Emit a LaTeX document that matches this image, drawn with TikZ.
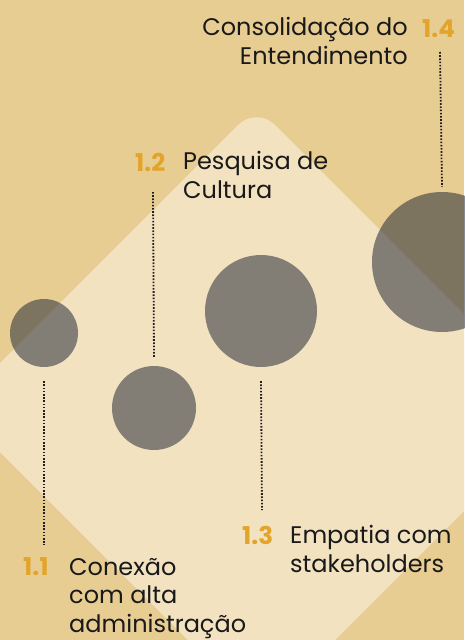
\documentclass[tikz,border=0pt]{standalone}
\usepackage{fontspec}
\setmainfont{Poppins}
\definecolor{tanbg}{HTML}{E8CD93}
\definecolor{cream}{HTML}{F2E2C0}
\definecolor{dotc}{HTML}{1E1E1E}
\definecolor{numc}{HTML}{E2A42A}
\definecolor{circc}{HTML}{1F2534}
\begin{document}
\begin{tikzpicture}[x=1pt,y=-1pt,
  circ/.style={circle,inner sep=0pt,fill=circc,fill opacity=0.53},
  dots/.style={draw=dotc,line width=1.8pt,dash pattern=on 1.6pt off 1.6pt},
  num/.style={inner sep=0pt,text=numc,font=\fontsize{24.5}{29}\selectfont\bfseries},
  lbl/.style={inner sep=0pt,align=left,text=black!90,font=\fontsize{24}{28.5}\selectfont},
  lblr/.style={inner sep=0pt,align=right,text=black!90,font=\fontsize{24}{28.5}\selectfont}]
\useasboundingbox (0,0) rectangle (464,640);
\fill[tanbg] (0,0) rectangle (464,640);
\begin{scope}
\clip (0,0) rectangle (464,640);
\fill[cream,rounded corners=26pt] (256.5,106.5) -- (562.5,412.5) -- (261.5,713.5) -- (-44.5,407.5) -- cycle;
\end{scope}
% circles
\node[circ,minimum size=68pt] (c1) at (44,333) {};
\node[circ,minimum size=84pt] (c2) at (154,408) {};
\node[circ,minimum size=112pt] (c3) at (261,311) {};
\node[circ,minimum size=140pt] (c4) at (442,262) {};
% labels (base anchor = baseline of the last line)
\node[num,anchor=base west] (n1) at (23,575) {1.1};
\node[lbl,anchor=base west] (t1) at (69,632) {Conexão\\com alta\\administração};
\node[num,anchor=base west] (n2) at (135,171) {1.2};
\node[lbl,anchor=base west] (t2) at (183,198) {Pesquisa de\\Cultura};
\node[num,anchor=base west] (n3) at (242,544) {1.3};
\node[lbl,anchor=base west] (t3) at (290,572) {Empatia com\\stakeholders};
\node[num,anchor=base west] (n4) at (422,37) {1.4};
\node[lblr,anchor=base east] (t4) at (408,64) {Consolidação do\\Entendimento};
% connectors
\coordinate (a1) at (44,545);
\coordinate (a2) at (153,192);
\coordinate (a3) at (262,510);
\coordinate (a4) at (440,52);
\draw[dots] ([yshift=-14pt]c1.south) -- (a1);
\draw[dots] (a2) -- ([yshift=8pt]c2.north);
\draw[dots] ([yshift=-14pt]c3.south) -- (a3);
\draw[dots] (a4) -- ([yshift=5pt]c4.north);
\end{tikzpicture}
\end{document}
